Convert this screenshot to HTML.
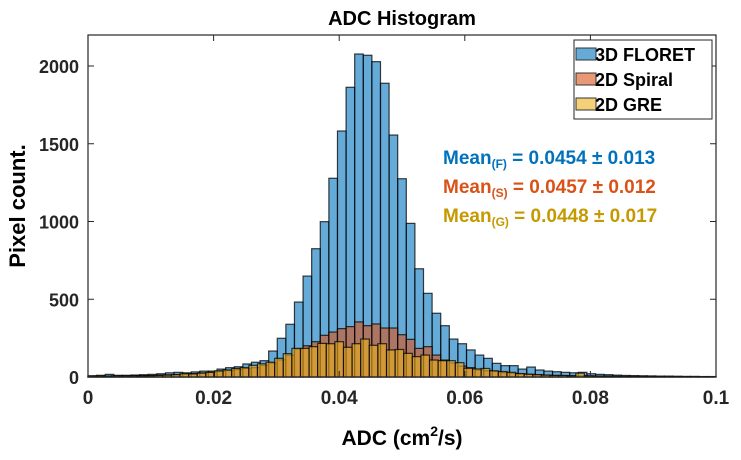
<!DOCTYPE html>
<html><head><meta charset="utf-8"><style>
body{margin:0;background:#fff;width:741px;height:455px;overflow:hidden}
svg{font-family:"Liberation Sans",sans-serif}
</style></head><body>
<svg id="c" width="741" height="455"></svg>
<script>
const binWidth = 0.1/73;
const floretCounts = [8,11,17,11,11,13,15,17,21,27,30,27,33,38,38,51,60,66,84,95,105,167,249,339,482,649,825,999,1278,1582,1863,2077,2069,2028,1889,1556,1275,988,696,538,410,330,244,214,174,141,120,88,73,73,51,64,45,38,34,30,27,30,21,17,15,12,10,9,8,7,6,6,5,4,4,3,3];
const spiralCounts = [3,4,5,6,7,8,9,10,12,14,16,18,22,26,30,36,42,48,55,60,75,90,110,140,180,201,227,268,289,311,324,354,330,341,315,315,272,242,184,195,141,109,90,70,60,45,40,35,28,24,20,17,14,12,10,9,8,7,6,5,5,4,4,3,3,3,2,2,2,2,1,1,1];
const greCounts = [6,7,6,8,7,8,6,8,10,12,15,22,20,25,30,40,45,55,60,75,85,95,120,150,184,184,195,216,214,227,191,214,244,204,214,174,177,152,131,141,109,105,105,92,56,52,55,40,35,30,22,18,15,12,10,10,8,25,8,6,5,5,4,4,3,3,3,2,2,2,2,1,1];
const xTicks = [0,0.02,0.04,0.06,0.08,0.1];
const xTickLabels = ["0","0.02","0.04","0.06","0.08","0.1"];
const yTicks = [0,500,1000,1500,2000];
const yTickLabels = ["0","500","1000","1500","2000"];

const NS="http://www.w3.org/2000/svg";
const svg=document.getElementById('c');
const L=88,R=716,T=35,B=377;
const xs=v=>L+(v/0.1)*(R-L);
const ys=v=>B-v*0.1555;
function mk(tag,attrs,parent){const e=document.createElementNS(NS,tag);for(const k in attrs)e.setAttribute(k,attrs[k]);(parent||svg).appendChild(e);return e;}

const plot=mk('g',{});


mk('rect',{x:L,y:T,width:R-L,height:B-T,fill:'#fff'},plot);

function drawSeries(counts,fill,offset,name){
  const g=mk('g',{},plot);
  
  
  counts.forEach((c,i)=>{
    const x0=xs((i+offset)*binWidth), x1=xs((i+offset+1)*binWidth);
    const r=mk('rect',{x:Math.max(L,x0),y:ys(c),width:x1-Math.max(L,x0),height:B-ys(c),fill:fill,'fill-opacity':0.6,stroke:'#000','stroke-opacity':0.75,'stroke-width':1.2},g);
    
    
  });
}
drawSeries(floretCounts,'rgb(0,114,189)',0,'floret-series');
drawSeries(spiralCounts,'rgb(217,83,25)',0,'spiral-series');
drawSeries(greCounts,'rgb(237,177,32)',-0.3,'gre-series');

mk('rect',{x:L,y:T,width:R-L,height:B-T,fill:'none',stroke:'#262626','stroke-width':1.2});
const ax=mk('g',{});


xTicks.forEach((v,i)=>{
  const x=xs(v);
  mk('line',{x1:x,y1:B,x2:x,y2:B-6,stroke:'#262626'},ax);
  mk('line',{x1:x,y1:T,x2:x,y2:T+6,stroke:'#262626'},ax);
  const t=mk('text',{x:x,y:B+27,'text-anchor':'middle','font-size':19,'font-weight':'bold',fill:'#262626'},ax);
  t.textContent=xTickLabels[i];
  
  
});
const ay=mk('g',{});


yTicks.forEach((v,i)=>{
  const y=ys(v);
  mk('line',{x1:L,y1:y,x2:L+6,y2:y,stroke:'#262626'},ay);
  mk('line',{x1:R,y1:y,x2:R-6,y2:y,stroke:'#262626'},ay);
  const t=mk('text',{x:L-9,y:y+7,'text-anchor':'end','font-size':18,'font-weight':'bold',fill:'#262626'},ay);
  t.textContent=yTickLabels[i];
  
  
});
</script>
<svg width="741" height="455" style="position:absolute;left:0;top:0">
<text x="402" y="25" text-anchor="middle" font-size="20" font-weight="bold" fill="#000">ADC Histogram</text>
<text transform="translate(25,206) rotate(-90)" text-anchor="middle" font-size="22" font-weight="bold" fill="#000">Pixel count.</text>
<text x="402" y="445" text-anchor="middle" font-size="21" font-weight="bold" fill="#000">ADC (cm<tspan font-size="14" dy="-9">2</tspan><tspan dy="9">/s)</tspan></text>
<g>
<rect x="574" y="40" width="138" height="79" fill="#fff" stroke="#262626" stroke-width="1"/>
<rect x="576" y="48" width="20" height="12" fill="rgb(102,170,215)" stroke="#333"/>
<text x="595" y="61" font-size="18" font-weight="bold">3D FLORET</text>
<rect x="576" y="73" width="20" height="12" fill="rgb(232,152,117)" stroke="#333"/>
<text x="595" y="86" font-size="18" font-weight="bold">2D Spiral</text>
<rect x="576" y="98" width="20" height="12" fill="rgb(244,208,121)" stroke="#333"/>
<text x="595" y="111" font-size="18" font-weight="bold">2D GRE</text>
</g>
<text x="443" y="164" font-size="19" font-weight="bold" fill="#0072BD">Mean<tspan font-size="12" dy="4">(F)</tspan><tspan dy="-4"> = 0.0454 ± 0.013</tspan></text>
<text x="443" y="193" font-size="19" font-weight="bold" fill="#D95319">Mean<tspan font-size="12" dy="4">(S)</tspan><tspan dy="-4"> = 0.0457 ± 0.012</tspan></text>
<text x="443" y="222" font-size="19" font-weight="bold" fill="#C49A00">Mean<tspan font-size="12" dy="4">(G)</tspan><tspan dy="-4"> = 0.0448 ± 0.017</tspan></text>
</svg>
</body></html>
